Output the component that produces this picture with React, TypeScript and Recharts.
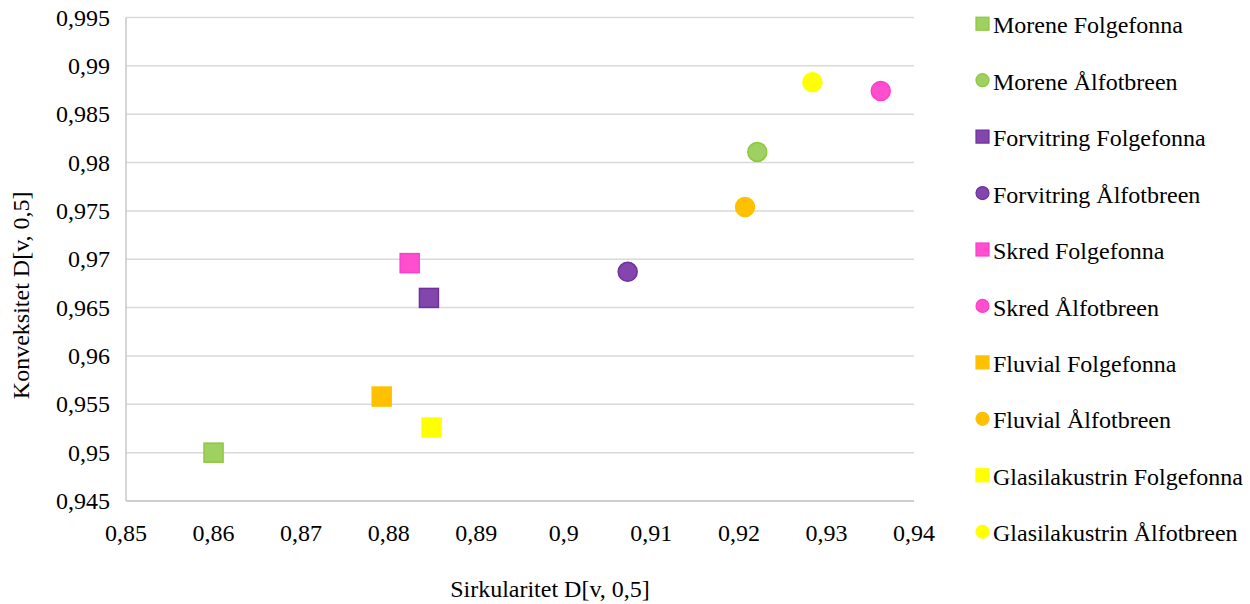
import React from "react";
import {
  ScatterChart,
  Scatter,
  XAxis,
  YAxis,
  CartesianGrid,
} from "recharts";

// Series: one sample group per series (sediment type × glacier)
const seriesNames = [
  "Morene Folgefonna",
  "Morene Ålfotbreen",
  "Forvitring Folgefonna",
  "Forvitring Ålfotbreen",
  "Skred Folgefonna",
  "Skred Ålfotbreen",
  "Fluvial Folgefonna",
  "Fluvial Ålfotbreen",
  "Glasilakustrin Folgefonna",
  "Glasilakustrin Ålfotbreen",
];

// Sirkularitet D[v, 0,5]
const circularity = [0.86, 0.9221, 0.8846, 0.9073, 0.8824, 0.9362, 0.8792, 0.9207, 0.8849, 0.9284];
// Konveksitet D[v, 0,5]
const convexity = [0.95, 0.9811, 0.966, 0.9687, 0.9696, 0.9874, 0.9558, 0.9754, 0.9526, 0.9883];

const xTicks = [0.85, 0.86, 0.87, 0.88, 0.89, 0.9, 0.91, 0.92, 0.93, 0.94];
const yTicks = [0.945, 0.95, 0.955, 0.96, 0.965, 0.97, 0.975, 0.98, 0.985, 0.99, 0.995];

const xTitle = "Sirkularitet D[v, 0,5]";
const yTitle = "Konveksitet D[v, 0,5]";

// Marker styling
const markerKinds = ["square", "circle", "square", "circle", "square", "circle", "square", "circle", "square", "circle"];
const fills = ["#9fd062", "#9fd062", "#8246ad", "#8246ad", "#ff4fcf", "#ff4fcf", "#ffc000", "#ffc000", "#ffff00", "#ffff00"];
const strokes = ["#8cc83a", "#8cc83a", "#7030a0", "#7030a0", "#ff3ccc", "#ff3ccc", "#ffc000", "#ffc000", "#ffff00", "#ffff00"];

const FONT = '"Liberation Serif", "Times New Roman", serif';
const FONT_SIZE = 24;

const fmt = (v: number) => v.toFixed(3).replace(/0+$/, "").replace(".", ",");

const makeShape = (i: number) => (props: any) => {
  const { cx, cy } = props;
  if (cx == null || cy == null) return <g />;
  if (markerKinds[i] === "square") {
    return (
      <rect
        x={cx - 9.5}
        y={cy - 9.5}
        width={19}
        height={19}
        fill={fills[i]}
        stroke={strokes[i]}
        strokeWidth={1.5}
      />
    );
  }
  return <circle cx={cx} cy={cy} r={9.5} fill={fills[i]} stroke={strokes[i]} strokeWidth={1.5} />;
};

const XTick = (props: any) => {
  const { x, y, payload } = props;
  return (
    <text x={x} y={y + 16} textAnchor="middle" fontFamily={FONT} fontSize={FONT_SIZE} fill="#000">
      {fmt(payload.value)}
    </text>
  );
};

const YTick = (props: any) => {
  const { x, y, payload } = props;
  return (
    <text x={x} y={y + 8} textAnchor="end" fontFamily={FONT} fontSize={FONT_SIZE} fill="#000">
      {fmt(payload.value)}
    </text>
  );
};

const XTitle = (props: any) => {
  const vb = props.viewBox || {};
  const cx = vb.x + vb.width / 2 + 30;
  return (
    <text x={cx} y={597} textAnchor="middle" fontFamily={FONT} fontSize={FONT_SIZE} fill="#000">
      {xTitle}
    </text>
  );
};

const YTitle = (props: any) => {
  const vb = props.viewBox || {};
  const cy = vb.y + vb.height / 2 + 36;
  const x = 29;
  return (
    <text
      x={x}
      y={cy}
      transform={`rotate(-90, ${x}, ${cy})`}
      textAnchor="middle"
      fontFamily={FONT}
      fontSize={FONT_SIZE}
      fill="#000"
    >
      {yTitle}
    </text>
  );
};

const Legend = () => (
  <svg
    width={1250}
    height={604}
    style={{ position: "absolute", left: 0, top: 0, pointerEvents: "none" }}
  >
    {seriesNames.map((name, i) => {
      const base = 33.3 + i * 56.45;
      const my = base - 9.6;
      const mx = 982.5;
      return (
        <g key={name}>
          {markerKinds[i] === "square" ? (
            <rect x={mx - 6.5} y={my - 6.5} width={13} height={13} fill={fills[i]} stroke={strokes[i]} strokeWidth={1.2} />
          ) : (
            <circle cx={mx} cy={my} r={6.5} fill={fills[i]} stroke={strokes[i]} strokeWidth={1.2} />
          )}
          <text x={993} y={base} fontFamily={FONT} fontSize={FONT_SIZE} fill="#000">
            {name}
          </text>
        </g>
      );
    })}
  </svg>
);

export default function App() {
  return (
    <div
      style={{
        position: "absolute",
        left: 0,
        top: 0,
        width: 1250,
        height: 604,
        background: "#fff",
        fontFamily: FONT,
      }}
    >
      <ScatterChart
        width={1250}
        height={604}
        margin={{ top: 17.5, right: 336, bottom: 0, left: 0 }}
      >
        <CartesianGrid vertical={false} stroke="#d9d9d9" strokeWidth={1.5} />
        <XAxis
          type="number"
          dataKey="x"
          domain={[0.85, 0.94]}
          ticks={xTicks}
          height={103}
          tickLine={false}
          tickSize={0}
          tickMargin={24}
          axisLine={{ stroke: "#c9c9c9", strokeWidth: 1.5 }}
          tick={<XTick />}
          allowDataOverflow
          label={<XTitle />}
        />
        <YAxis
          type="number"
          dataKey="y"
          domain={[0.945, 0.995]}
          ticks={yTicks}
          width={126}
          tickLine={false}
          tickSize={0}
          tickMargin={16}
          axisLine={{ stroke: "#c9c9c9", strokeWidth: 1.5 }}
          tick={<YTick />}
          allowDataOverflow
          label={<YTitle />}
        />
        {seriesNames.map((name, i) => (
          <Scatter
            key={name}
            name={name}
            data={[{ x: circularity[i], y: convexity[i] }]}
            fill={fills[i]}
            shape={makeShape(i)}
            isAnimationActive={false}
          />
        ))}
      </ScatterChart>
      <Legend />
    </div>
  );
}
